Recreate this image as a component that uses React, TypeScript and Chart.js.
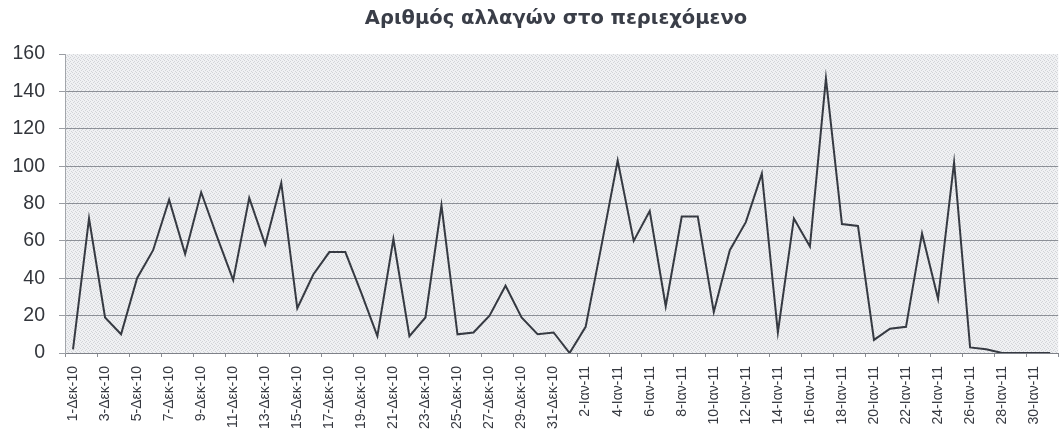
import React, { useEffect, useRef } from "react";
import { Chart, registerables } from "chart.js";

Chart.register(...registerables);

const chartTitle = "Αριθμός αλλαγών στο περιεχόμενο";
const decemberSuffix = "Δεκ-10";
const januarySuffix = "Ιαν-11";

const decemberValues = [
  2, 72, 19, 10, 40, 55, 82, 53, 86, 62, 39, 83, 58, 91, 24, 42, 54, 54, 32, 9,
  61, 9, 19, 79, 10, 11, 20, 36, 19, 10, 11,
];
const januaryValues = [
  0, 14, 58, 103, 60, 76, 25, 73, 73, 22, 55, 70, 96, 11, 72, 57, 147, 69, 68, 7,
  13, 14, 64, 29, 102, 3, 2, 0, 0, 0, 0,
];

const categories = [
  ...decemberValues.map((_, i) => `${i + 1}-${decemberSuffix}`),
  ...januaryValues.map((_, i) => `${i + 1}-${januarySuffix}`),
];
const seriesValues = [...decemberValues, ...januaryValues];

const yMin = 0;
const yMax = 160;
const yStep = 20;

const FONT = "'Liberation Sans', Arial, sans-serif";

function makePattern(): CanvasPattern | string {
  const c = document.createElement("canvas");
  c.width = 4;
  c.height = 4;
  const g = c.getContext("2d");
  if (!g) return "#e6e7ea";
  g.fillStyle = "#f0f1f3";
  g.fillRect(0, 0, 4, 4);
  g.fillStyle = "#d2d4d8";
  [
    [0, 0],
    [2, 1],
    [1, 2],
    [3, 3],
  ].forEach(([x, y]) => g.fillRect(x, y, 1, 1));
  const p = g.createPattern(c, "repeat");
  return p || "#e6e7ea";
}

export default function App() {
  const canvasRef = useRef<HTMLCanvasElement | null>(null);

  useEffect(() => {
    if (!canvasRef.current) return;
    const pattern = makePattern();
    const plotBg = {
      id: "plotBg",
      beforeDraw(chart: any) {
        const { ctx, chartArea } = chart;
        if (!chartArea) return;
        ctx.save();
        ctx.fillStyle = pattern;
        ctx.fillRect(chartArea.left, chartArea.top, chartArea.width, chartArea.height);
        ctx.restore();
      },
    };
    const titlePlugin = {
      id: "offsetTitle",
      afterDraw(chart: any) {
        const { ctx } = chart;
        ctx.save();
        ctx.fillStyle = "#3a3e48";
        ctx.font = `bold 19.5px 'DejaVu Sans', ${FONT}`;
        ctx.textAlign = "center";
        ctx.textBaseline = "middle";
        ctx.fillText(chartTitle, 556, 19);
        ctx.restore();
      },
    };
    const chart = new Chart(canvasRef.current, {
      type: "line",
      data: {
        labels: categories,
        datasets: [
          {
            data: seriesValues,
            borderColor: "#363a42",
            borderWidth: 2,
            pointRadius: 0,
            tension: 0,
            fill: false,
          },
        ],
      },
      options: {
        animation: false,
        responsive: true,
        maintainAspectRatio: false,
        layout: { padding: { top: 54, left: 0, right: 0, bottom: 0 } },
        plugins: {
          legend: { display: false },
          tooltip: { enabled: false },
          title: { display: false },
        },
        scales: {
          x: {
            type: "category",
            offset: true,
            afterFit: (scale: any) => {
              scale.height = 77;
            },
            grid: {
              offset: true,
              drawOnChartArea: false,
              drawTicks: true,
              tickLength: 4,
              tickColor: (ctx: any) =>
                ctx.index === undefined || ctx.index % 2 === 0 ? "#8a8d93" : "rgba(0,0,0,0)",
            },
            border: { display: true, color: "#7e8188", width: 1 },
            ticks: {
              autoSkip: false,
              minRotation: 90,
              maxRotation: 90,
              padding: 9,
              color: "#363940",
              font: { family: FONT, size: 14 },
              callback: (_v: any, index: number) => (index % 2 === 0 ? categories[index] : ""),
            },
          },
          y: {
            min: yMin,
            max: yMax,
            afterFit: (scale: any) => {
              scale.width = 65;
            },
            grid: {
              color: (ctx: any) =>
                ctx.tick && ctx.tick.value === yMax ? "rgba(0,0,0,0)" : "#8c9097",
              lineWidth: 1,
              drawTicks: true,
              tickLength: 6,
              tickColor: "#9a9da3",
            },
            border: { display: true, color: "#a3a6ab", width: 1 },
            ticks: {
              stepSize: yStep,
              padding: 14,
              color: "#33363c",
              font: { family: FONT, size: 19.5 },
            },
          },
        },
      },
      plugins: [plotBg, titlePlugin],
    } as any);
    return () => chart.destroy();
  }, []);

  return (
    <div
      style={{
        position: "fixed",
        left: 0,
        top: 0,
        width: 1064,
        height: 430,
        overflow: "hidden",
        background: "#ffffff",
      }}
    >
      <div style={{ position: "relative", width: 1076, height: 430 }}>
        <canvas ref={canvasRef} />
      </div>
    </div>
  );
}
